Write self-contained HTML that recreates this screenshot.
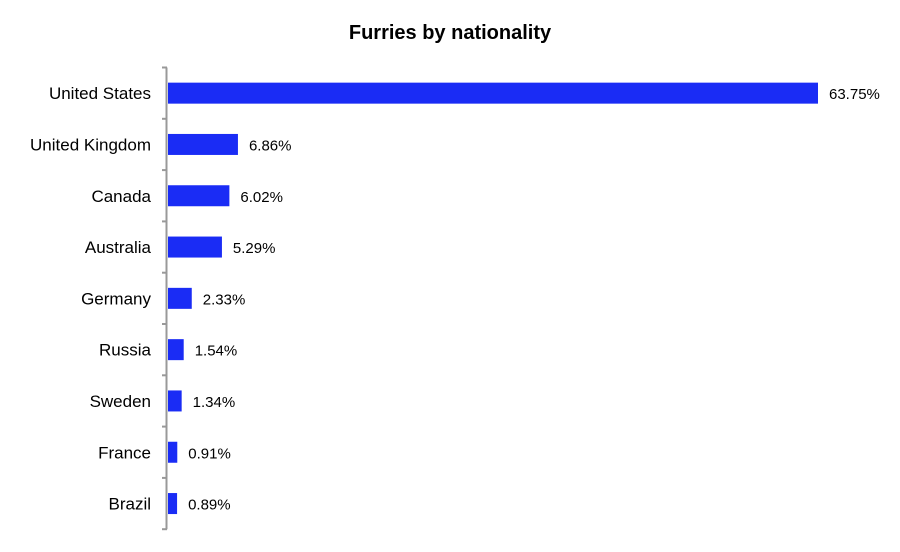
<!DOCTYPE html>
<html><head><meta charset="utf-8"><style>
body{margin:0;background:#fff;}
svg text{font-family:"Liberation Sans",sans-serif;}
</style></head><body>
<svg id="c" width="900" height="547">
<text x="450" y="39" text-anchor="middle" font-size="20" font-weight="bold" fill="#000">Furries by nationality</text>
</svg>
<script>
const categories=["United States","United Kingdom","Canada","Australia","Germany","Russia","Sweden","France","Brazil"];
const values=[63.75,6.86,6.02,5.29,2.33,1.54,1.34,0.91,0.89];
const labels=["63.75%","6.86%","6.02%","5.29%","2.33%","1.54%","1.34%","0.91%","0.89%"];
const svg=document.getElementById('c');
const NS='http://www.w3.org/2000/svg';
const x0=168, pxPer=(818-168)/63.75, plotTop=67.5, band=51.3;
const xs=v=>x0+v*pxPer;
const yb=i=>plotTop+i*band;
function mk(t,a){const e=document.createElementNS(NS,t);for(const k in a)e.setAttribute(k,a[k]);svg.appendChild(e);return e;}
const ax=mk('line',{x1:166.5,y1:plotTop,x2:166.5,y2:plotTop+categories.length*band,stroke:'#999','stroke-width':2});


for(let i=0;i<=categories.length;i++){
  const t=mk('line',{x1:162,y1:yb(i),x2:167,y2:yb(i),stroke:'#999','stroke-width':2});
  
  
}
categories.forEach((c,i)=>{
  const cy=yb(i)+band/2;
  const l=mk('text',{x:151,y:cy+6,'text-anchor':'end','font-size':17,fill:'#000'});
  l.textContent=c;
  
  
  const r=mk('rect',{x:x0,y:cy-10.5,width:xs(values[i])-x0,height:21,fill:'#1a2cf5'});
  
  
  const v=mk('text',{x:xs(values[i])+11,y:cy+6,'font-size':15,fill:'#000'});
  v.textContent=labels[i];
  
  
});
</script>
</body></html>
